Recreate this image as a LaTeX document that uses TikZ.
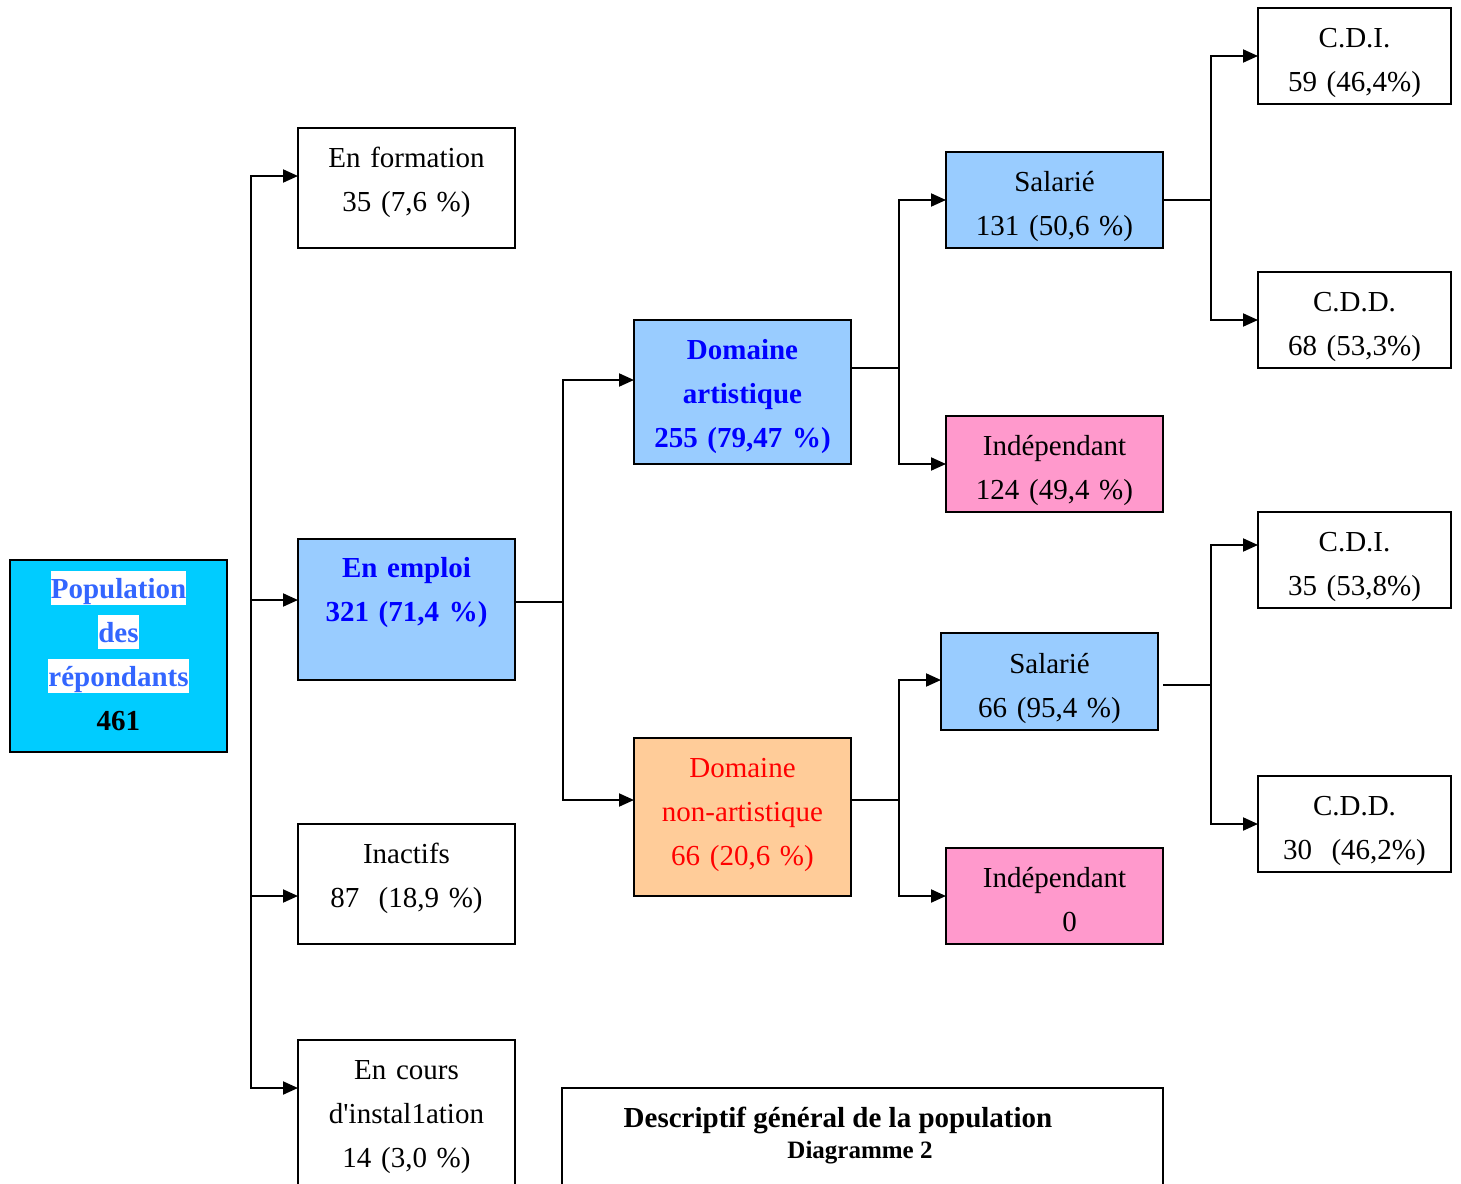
\documentclass[tikz,border=0pt]{standalone}
\usepackage{fontspec}
\setmainfont{Liberation Serif}[Ligatures=TeXOff]
\usetikzlibrary{arrows.meta,calc}
\definecolor{popfill}{RGB}{0,204,255}
\definecolor{popblue}{RGB}{51,102,255}
\definecolor{lightblue}{RGB}{153,204,255}
\definecolor{peach}{RGB}{255,204,153}
\definecolor{pinkfill}{RGB}{255,153,204}
\newcommand\hlw[1]{{\setlength{\fboxsep}{0pt}\colorbox{white}{\rule[-7pt]{0pt}{34pt}#1}}}
\begin{document}
\begin{tikzpicture}[x=1pt,y=-1pt,
  box/.style={draw=black, line width=2pt, rectangle, inner sep=0pt, outer sep=0pt},
  txt/.style={text width=320pt, align=center, anchor=base, inner sep=0pt, font=\fontsize{29}{44}\selectfont},
  ln/.style={line width=2pt, line cap=rect},
  arr/.style={line width=2pt, line cap=rect, -{Triangle[length=15pt,width=13pt]}}]
\path[use as bounding box] (0,0) rectangle (1461,1183);
\fill[white] (0,0) rectangle (1461,1183);
\clip (0,0) rectangle (1461,1183);

% boxes
\node[box, fill=popfill, minimum width=217, minimum height=192] (pop) at (118.5,656) {};
\node[box, fill=white, minimum width=217, minimum height=120] (form) at (406.5,188) {};
\node[box, fill=lightblue, minimum width=217, minimum height=141] (emploi) at (406.5,609.5) {};
\node[box, fill=white, minimum width=217, minimum height=120] (inact) at (406.5,884) {};
\node[box, fill=white, minimum width=217, minimum height=190] (cours) at (406.5,1135) {};
\node[box, fill=lightblue, minimum width=217, minimum height=144] (art) at (742.5,392) {};
\node[box, fill=peach, minimum width=217, minimum height=158] (nonart) at (742.5,817) {};
\node[box, fill=lightblue, minimum width=217, minimum height=96] (salA) at (1054.5,200) {};
\node[box, fill=pinkfill, minimum width=217, minimum height=96] (indA) at (1054.5,464) {};
\node[box, fill=lightblue, minimum width=217, minimum height=97] (salB) at (1049.5,681.5) {};
\node[box, fill=pinkfill, minimum width=217, minimum height=96] (indB) at (1054.5,896) {};
\node[box, fill=white, minimum width=193, minimum height=96] (cdiA) at (1354.5,56) {};
\node[box, fill=white, minimum width=193, minimum height=96] (cddA) at (1354.5,320) {};
\node[box, fill=white, minimum width=193, minimum height=96] (cdiB) at (1354.5,560) {};
\node[box, fill=white, minimum width=193, minimum height=96] (cddB) at (1354.5,824) {};
\node[box, fill=white, minimum width=601, minimum height=162] (title) at (862.5,1169) {};

% texts
\node[txt, text=popblue, font=\fontsize{29}{44}\selectfont\bfseries] (popT) at (118.5,598)
  {\hlw{Population}\\\hlw{des}\\\hlw{répondants}\\\textcolor{black}{461}};
\node[txt] (formT) at (406.5,167) {En formation\\35 (7,6 \%)};
\node[txt, text=blue, font=\fontsize{29}{44}\selectfont\bfseries] (emploiT) at (406.5,577) {En emploi\\321 (71,4 \%)};
\node[txt] (inactT) at (406.5,863) {Inactifs\\87\ \ (18,9 \%)};
\node[txt] (coursT) at (406.5,1079) {En cours\\d'instal1ation\\14 (3,0 \%)};
\node[txt, text=blue, font=\fontsize{29}{44}\selectfont\bfseries] (artT) at (742.5,359) {Domaine\\artistique\\255 (79,47 \%)};
\node[txt, text=red] (nonartT) at (742.5,777) {Domaine\\non-artistique\\66 (20,6 \%)};
\node[txt] (salAT) at (1054.5,191) {Salarié\\131 (50,6 \%)};
\node[txt] (indAT) at (1054.5,455) {Indépendant\\124 (49,4 \%)};
\node[txt] (salBT) at (1049.5,673) {Salarié\\66 (95,4 \%)};
\node[txt] (indBT) at (1054.5,887) {Indépendant\\\hspace*{30pt}0};
\node[txt] (cdiAT) at (1354.5,47) {C.D.I.\\59 (46,4\%)};
\node[txt] (cddAT) at (1354.5,311) {C.D.D.\\68 (53,3\%)};
\node[txt] (cdiBT) at (1354.5,551) {C.D.I.\\35 (53,8\%)};
\node[txt] (cddBT) at (1354.5,815) {C.D.D.\\30\ \ (46,2\%)};
\node[anchor=base, inner sep=0pt, font=\fontsize{29}{34}\selectfont\bfseries] (titleT) at (838,1127) {Descriptif général de la population};
\node[anchor=base, inner sep=0pt, font=\fontsize{25}{30}\selectfont\bfseries] (titleS) at (860,1158) {Diagramme 2};

% connectors level 1
\coordinate (b1a) at (251,176);
\coordinate (b1b) at (251,600);
\coordinate (b1c) at (251,896);
\coordinate (b1d) at (251,1088);
\draw[ln] (b1a) -- (b1d);
\draw[arr] (b1a) -- (b1a -| form.west);
\draw[arr] (b1b) -- (b1b -| emploi.west);
\draw[arr] (b1c) -- (b1c -| inact.west);
\draw[arr] (b1d) -- (b1d -| cours.west);

% level 2
\coordinate (b2m) at (563,602);
\coordinate (b2a) at (563,380);
\coordinate (b2b) at (563,800);
\draw[ln] (emploi.east |- b2m) -- (b2m);
\draw[ln] (b2a) -- (b2b);
\draw[arr] (b2a) -- (b2a -| art.west);
\draw[arr] (b2b) -- (b2b -| nonart.west);

% level 3 (artistique)
\coordinate (b3m) at (899,368);
\coordinate (b3a) at (899,200);
\coordinate (b3b) at (899,464);
\draw[ln] (art.east |- b3m) -- (b3m);
\draw[ln] (b3a) -- (b3b);
\draw[arr] (b3a) -- (b3a -| salA.west);
\draw[arr] (b3b) -- (b3b -| indA.west);

% level 3 (non-artistique)
\coordinate (b4m) at (899,800);
\coordinate (b4a) at (899,680);
\coordinate (b4b) at (899,896);
\draw[ln] (nonart.east |- b4m) -- (b4m);
\draw[ln] (b4a) -- (b4b);
\draw[arr] (b4a) -- (b4a -| salB.west);
\draw[arr] (b4b) -- (b4b -| indB.west);

% level 4 (salarie A)
\coordinate (b5m) at (1211,200);
\coordinate (b5a) at (1211,56);
\coordinate (b5b) at (1211,320);
\draw[ln] (salA.east |- b5m) -- (b5m);
\draw[ln] (b5a) -- (b5b);
\draw[arr] (b5a) -- (b5a -| cdiA.west);
\draw[arr] (b5b) -- (b5b -| cddA.west);

% level 4 (salarie B)
\coordinate (b6m) at (1211,685);
\coordinate (b6a) at (1211,545);
\coordinate (b6b) at (1211,824);
\draw[ln] ([xshift=6pt]salB.east |- b6m) -- (b6m);
\draw[ln] (b6a) -- (b6b);
\draw[arr] (b6a) -- (b6a -| cdiB.west);
\draw[arr] (b6b) -- (b6b -| cddB.west);
\end{tikzpicture}
\end{document}
